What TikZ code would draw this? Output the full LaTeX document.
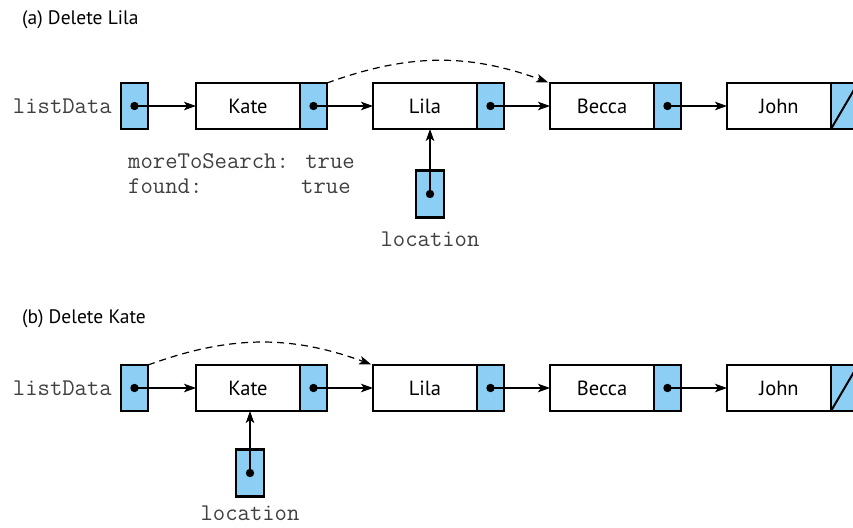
\documentclass[tikz,border=0pt]{standalone}
\usepackage{fontspec}
\setmainfont{PT Sans}
\usetikzlibrary{positioning,arrows.meta}
\definecolor{ptrblue}{RGB}{141,207,244}
\tikzset{
  datapart/.style={draw, line width=2.4pt, minimum width=104pt, minimum height=46pt,
    outer sep=0pt, inner sep=0pt, font=\fontsize{20.5}{24}\selectfont},
  ptrpart/.style={draw, fill=ptrblue, line width=2.4pt, minimum width=27pt,
    minimum height=46pt, outer sep=0pt, inner sep=0pt},
  link/.style={-{Stealth[length=12pt,width=8.5pt,inset=3pt]}, line width=1.2pt},
  jump/.style={link, dash pattern=on 7pt off 5pt, shorten >=2pt},
  code/.style={inner sep=0pt, text=black!75, font=\ttfamily\fontsize{24}{25}\selectfont},
  title/.style={inner sep=0pt, anchor=base west, font=\fontsize{19.5}{22}\selectfont},
}
\begin{document}
\begin{tikzpicture}[x=1pt,y=-1pt]
\useasboundingbox (0,0) rectangle (853,527);
% (a) delete Lila
\node[title] (titleA) at (22,25) {(a) Delete Lila};
\node[ptrpart] (headA) at (134.5,106) {};
\node[code, left=9pt of headA] (headAlbl) {listData};
\node[datapart] (kateA) at (248,106) {Kate};
\node[ptrpart, right=0pt of kateA] (kateAp) {};
\node[datapart] (lilaA) at (425,106) {Lila};
\node[ptrpart, right=0pt of lilaA] (lilaAp) {};
\node[datapart] (beccaA) at (602,106) {Becca};
\node[ptrpart, right=0pt of beccaA] (beccaAp) {};
\node[datapart] (johnA) at (779,106) {John};
\node[ptrpart, right=0pt of johnA] (johnAp) {};
\draw[line width=2pt] (johnAp.south west) -- (johnAp.north east);
\foreach \p/\q in {headA/kateA, kateAp/lilaA, lilaAp/beccaA, beccaAp/johnA}{
  \fill (\p.center) circle (4.2pt);
  \draw[link] (\p.center) -- (\q.west);
}
\draw[jump] (kateAp.north east) to[out=20, in=160] (beccaA.north west);
\node[code, anchor=north west, align=left] (status) at (128,153)
  {moreToSearch: true\\found:\ \ \ \ \ \ \ \ true};
\node[ptrpart, minimum width=28pt, minimum height=47pt] (locA) at (430,194) {};
\fill (locA.center) circle (4.2pt);
\draw[link] (locA.center) -- (locA.center |- lilaA.south);
\node[code, below=14pt of locA] (locAlbl) {location};
% (b) delete Kate
\node[title] (titleB) at (22,323) {(b) Delete Kate};
\node[ptrpart] (headB) at (134.5,388) {};
\node[code, left=9pt of headB] (headBlbl) {listData};
\node[datapart] (kateB) at (248,388) {Kate};
\node[ptrpart, right=0pt of kateB] (kateBp) {};
\node[datapart] (lilaB) at (425,388) {Lila};
\node[ptrpart, right=0pt of lilaB] (lilaBp) {};
\node[datapart] (beccaB) at (602,388) {Becca};
\node[ptrpart, right=0pt of beccaB] (beccaBp) {};
\node[datapart] (johnB) at (779,388) {John};
\node[ptrpart, right=0pt of johnB] (johnBp) {};
\draw[line width=2pt] (johnBp.south west) -- (johnBp.north east);
\foreach \p/\q in {headB/kateB, kateBp/lilaB, lilaBp/beccaB, beccaBp/johnB}{
  \fill (\p.center) circle (4.2pt);
  \draw[link] (\p.center) -- (\q.west);
}
\draw[jump] (headB.north east) to[out=20, in=160] (lilaB.north west);
\node[ptrpart, minimum width=28pt, minimum height=47pt] (locB) at (250,473) {};
\fill (locB.center) circle (4.2pt);
\draw[link] (locB.center) -- (locB.center |- kateB.south);
\node[code, below=9pt of locB] (locBlbl) {location};
\end{tikzpicture}
\end{document}
